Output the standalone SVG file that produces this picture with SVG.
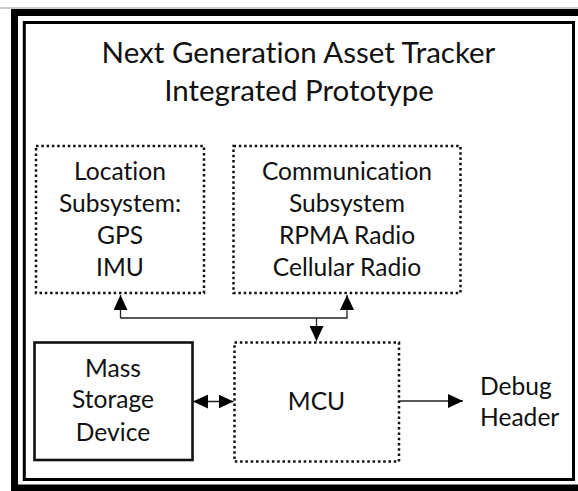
<svg xmlns="http://www.w3.org/2000/svg" width="578" height="491" viewBox="0 0 578 491">
<style>
  text { font-family: Lato, "Open Sans", sans-serif; fill: #111; text-anchor: middle; font-variant-ligatures: none; font-feature-settings: "liga" 0, "clig" 0; }
  .title { font-size: 29.5px; }
  .lbl { font-size: 24.6px; }
  .dot { fill: none; stroke: #111; stroke-width: 2.5; stroke-dasharray: 2.5 2.8; }
  .solid { fill: none; stroke: #111; stroke-width: 2.6; }
  .conn { fill: none; stroke: #222; stroke-width: 1.3; }
</style>
<defs>
  <marker id="ah" markerUnits="userSpaceOnUse" markerWidth="15" markerHeight="14" refX="15" refY="7" orient="auto-start-reverse" viewBox="0 0 15 14">
    <path d="M0,0 L15,7 L0,14 z" fill="#000"/>
  </marker>
</defs>
<rect x="0" y="0" width="578" height="491" fill="#fff"/>
<line x1="0" y1="8" x2="578" y2="8" stroke="#999" stroke-width="1"/>
<g id="frame">
  <rect x="14.5" y="12.5" width="570" height="475.5" fill="none" stroke="#000" stroke-width="7"/>
  <rect x="24.3" y="22.5" width="549.2" height="457" fill="none" stroke="#000" stroke-width="3"/>
</g>
<g id="title">
  <text class="title" x="298.5" y="62.5">Next Generation Asset Tracker</text>
  <text class="title" x="299" y="100.5">Integrated Prototype</text>
</g>
<g id="location">
  <rect class="dot" x="36" y="146" width="168" height="147"/>
  <text class="lbl" x="120" y="180">Location</text>
  <text class="lbl" x="120" y="212">Subsystem:</text>
  <text class="lbl" x="120" y="244">GPS</text>
  <text class="lbl" x="120" y="276">IMU</text>
</g>
<g id="communication">
  <rect class="dot" x="233.5" y="146" width="227" height="147"/>
  <text class="lbl" x="347" y="180">Communication</text>
  <text class="lbl" x="347" y="212">Subsystem</text>
  <text class="lbl" x="347" y="244">RPMA Radio</text>
  <text class="lbl" x="347" y="276">Cellular Radio</text>
</g>
<g id="mass-storage">
  <rect class="solid" x="34.5" y="342.5" width="158" height="117.5"/>
  <text class="lbl" x="113" y="376.5">Mass</text>
  <text class="lbl" x="113" y="408">Storage</text>
  <text class="lbl" x="113" y="440.5">Device</text>
</g>
<g id="mcu">
  <rect class="dot" x="234.5" y="342.5" width="164.5" height="119"/>
  <text class="lbl" x="316.5" y="410">MCU</text>
</g>
<g id="debug-header">
  <text class="lbl" x="480" y="395" style="text-anchor:start">Debug</text>
  <text class="lbl" x="480" y="426" style="text-anchor:start">Header</text>
</g>
<g id="connectors">
  <polyline class="conn" points="120.5,318 120.5,295" marker-end="url(#ah)"/>
  <polyline class="conn" points="120.5,318 347,318 347,295" marker-end="url(#ah)"/>
  <line class="conn" x1="316.5" y1="318" x2="316.5" y2="341" marker-end="url(#ah)"/>
  <line class="conn" x1="193" y1="401.5" x2="233.5" y2="401.5" marker-start="url(#ah)" marker-end="url(#ah)"/>
  <line class="conn" x1="399.5" y1="401" x2="463" y2="401" marker-end="url(#ah)"/>
</g>
</svg>
